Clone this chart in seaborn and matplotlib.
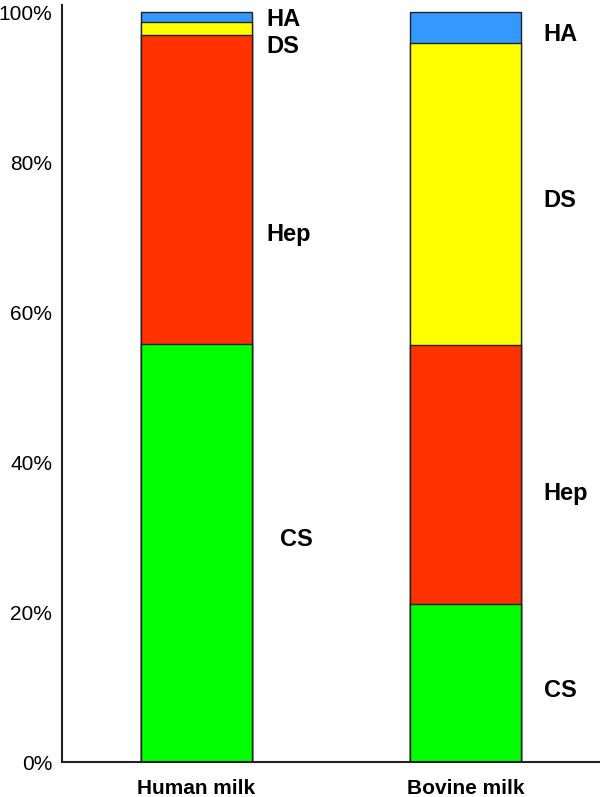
import numpy as np
import pandas as pd
import seaborn as sns
import matplotlib.pyplot as plt
from matplotlib.ticker import FuncFormatter

# Data (percent of total GAG)
samples = ["Human milk", "Bovine milk"]
components = ["CS", "Hep", "DS", "HA"]
cs = [55.7, 21.1]
hep = [41.3, 34.5]
ds = [1.7, 40.2]
ha = [1.3, 4.2]

colors = {"CS": "#00ff00", "Hep": "#ff3300", "DS": "#ffff00", "HA": "#3399ff"}

# Label placement (y in %, per sample)
label_y = {
    "Human milk": {"HA": 99.0, "DS": 95.4, "Hep": 70.4, "CS": 29.6},
    "Bovine milk": {"HA": 97.0, "DS": 74.9, "Hep": 35.8, "CS": 9.5},
}
label_dx = {"Human milk": {"HA": 0.26, "DS": 0.26, "Hep": 0.26, "CS": 0.31},
            "Bovine milk": {"HA": 0.29, "DS": 0.29, "Hep": 0.29, "CS": 0.29}}

df = pd.DataFrame({"sample": samples, "CS": cs, "Hep": hep, "DS": ds, "HA": ha})

sns.set_style("white")
plt.rcParams["font.family"] = ["Liberation Sans", "DejaVu Sans"]
plt.rcParams["text.color"] = "black"
plt.rcParams["xtick.color"] = "black"
plt.rcParams["ytick.color"] = "black"

fig = plt.figure(figsize=(6, 7.97), dpi=100)
ax = fig.add_axes([62 / 600, 35 / 797, 538 / 600, 757.5 / 797])

# Draw cumulative layers from the top down so each segment shows
cum = df[components].cumsum(axis=1)
for comp in reversed(components):
    sns.barplot(x=df["sample"], y=cum[comp], color=colors[comp], width=0.41,
                edgecolor="#222222", linewidth=1.0, saturation=1, ax=ax)

# Segment labels
for i, s in enumerate(samples):
    for comp in components:
        ax.text(i + label_dx[s][comp], label_y[s][comp], comp, fontsize=17,
                fontweight="bold", ha="left", va="center")

ax.set_ylim(0, 101)
ax.set_xlim(-0.5, 1.5)
ax.set_yticks(np.arange(0, 101, 20))
ax.yaxis.set_major_formatter(FuncFormatter(lambda v, p: f"{v:.0f}%"))
ax.set_xticks([0, 1])
ax.set_xticklabels(samples, fontsize=15, fontweight="bold")
ax.set_xticks([0.5, 1.5], minor=True)
ax.tick_params(axis="x", which="major", length=0, pad=12)
ax.tick_params(axis="x", which="minor", length=5, width=1.2, direction="out")
ax.tick_params(axis="y", length=5, width=1.2, direction="out", labelsize=15, pad=2)
ax.set_xlabel("")
ax.set_ylabel("")

for side in ["top", "right"]:
    ax.spines[side].set_visible(False)
for side in ["left", "bottom"]:
    ax.spines[side].set_color("#222222")
    ax.spines[side].set_linewidth(1.5)

fig.savefig("out.png", dpi=100)
